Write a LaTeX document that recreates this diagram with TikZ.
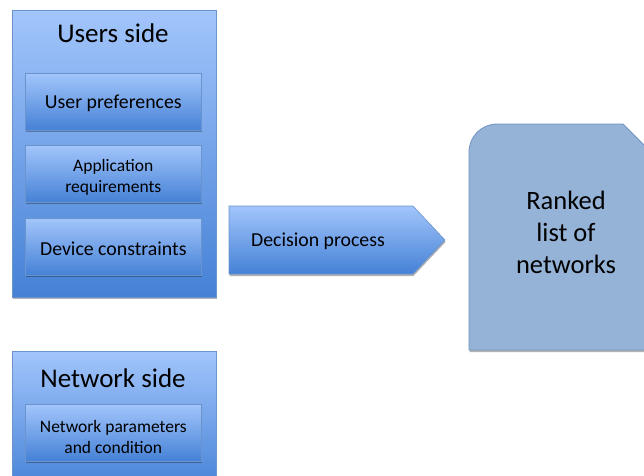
\documentclass[tikz,border=0pt]{standalone}
\usepackage{fontspec}
\setmainfont{Carlito}
\usetikzlibrary{shadows}
\definecolor{gtop}{HTML}{A2C5FB}
\definecolor{gbot}{HTML}{4581D6}
\definecolor{edge}{HTML}{6C94CC}
\definecolor{rankfill}{HTML}{95B3D7}
\definecolor{rankedge}{HTML}{6F92C2}
\begin{document}
\begin{tikzpicture}[x=1pt,y=-1pt,
  grad/.style={draw=edge,line width=0.6pt,top color=gtop,bottom color=gbot,
    drop shadow={shadow xshift=0.5pt,shadow yshift=-2pt,opacity=0.3,fill=black}},
  outer/.style={grad,anchor=north west,inner sep=0pt},
  inner/.style={grad,anchor=north west,inner sep=0pt,minimum width=176pt,minimum height=57pt},
  title/.style={font=\fontsize{27}{30}\selectfont},
  lbl/.style={font=\fontsize{19.8}{22}\selectfont,align=center,yshift=-1.5pt},
  small/.style={font=\fontsize{17.5}{21}\selectfont,align=center,yshift=-4pt}]
\useasboundingbox (0,0) rectangle (644,475);
\clip (0,0) rectangle (644,475);
% Users side
\node[outer,minimum width=204pt,minimum height=287pt] (users) at (12,10) {};
\node[title] (userst) at (113,33) {Users side};
\node[inner,label={[lbl]center:User preferences}] (pref) at (25,73) {};
\node[inner,label={[small]center:Application\\requirements}] (app) at (25,145) {};
\node[inner,label={[lbl]center:Device constraints}] (dev) at (25,218) {};
% Network side
\node[outer,minimum width=204pt,minimum height=140pt] (net) at (12,351) {};
\node[title] (nett) at (113,378) {Network side};
\node[inner,label={[small]center:Network parameters\\and condition}] (npar) at (25,404) {};
% Decision process arrow
\path[grad] (229,206) -- (413,206) -- (445,240) -- (413,274) -- (229,274) -- cycle;
\node[lbl] (dec) at (318,240) {Decision process};
% Ranked list
\path[fill=rankfill,draw=rankedge,line width=0.8pt,
  drop shadow={shadow xshift=0.5pt,shadow yshift=-2pt,opacity=0.3,fill=black}]
  (469,350) -- (469,152) arc[start angle=180,end angle=270,radius=28] -- (623,124) -- (665,166) -- (665,350) -- cycle;
\node[font=\fontsize{26.5}{32}\selectfont,align=center] (rank) at (566,232) {Ranked\\list of\\networks};
\end{tikzpicture}
\end{document}
